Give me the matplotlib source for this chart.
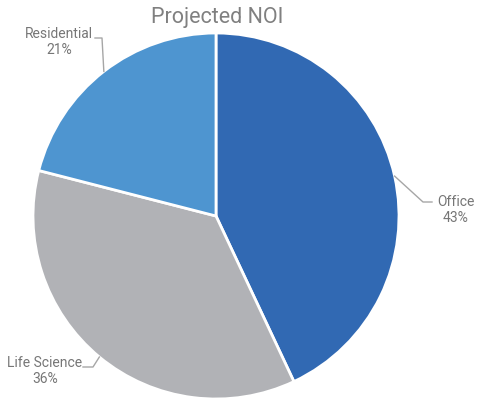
import numpy as np
import matplotlib
matplotlib.use("Agg")
import matplotlib.pyplot as plt

plt.rcParams['font.family'] = ['Roboto', 'DejaVu Sans']

# datos
categorias = ["Office", "Life Science", "Residential"]
valores = [43, 36, 21]
colores = ["#3169b3", "#b1b2b6", "#4e95d0"]

W, H = 486, 401
cx, cy, r = 216, 216, 183

fig = plt.figure(figsize=(W / 100, H / 100), dpi=100)
ax = fig.add_axes([(cx - r) / W, (H - cy - r) / H, 2 * r / W, 2 * r / H])

wedges, _ = ax.pie(valores, colors=colores, startangle=90, counterclock=False,
                   radius=1, wedgeprops=dict(edgecolor="white", linewidth=2))
ax.set_xlim(-1, 1)
ax.set_ylim(-1, 1)
ax.axis("off")

def px(x, y):
    # pixel -> datos
    return (x - cx) / r, (cy - y) / r

# codos de las lineas guia y posicion del texto (en pixeles)
guias = {
    "Office": ([(423, 202), (432, 202)], (456, 210)),
    "Life Science": ([(93, 367), (83, 367)], (45, 371)),
    "Residential": ([(102, 38), (95, 38)], (59, 42)),
}

total = sum(valores)
for w, cat, v in zip(wedges, categorias, valores):
    ang = np.deg2rad((w.theta1 + w.theta2) / 2)
    x0, y0 = np.cos(ang), np.sin(ang)
    codos, txt = guias[cat]
    xs = [x0] + [px(*p)[0] for p in codos]
    ys = [y0] + [px(*p)[1] for p in codos]
    ax.plot(xs, ys, color="#a6a6a6", lw=1, clip_on=False)
    tx, ty = px(*txt)
    ax.text(tx, ty, f"{cat}\n{round(100 * v / total)}%", ha="center", va="center",
            fontsize=10, color="#767676", linespacing=1.2, clip_on=False)

fig.text(217 / W, 1 - 18 / H, "Projected NOI", ha="center", va="center",
         fontsize=15.5, color="#808080")

fig.savefig("out.png", dpi=100)
